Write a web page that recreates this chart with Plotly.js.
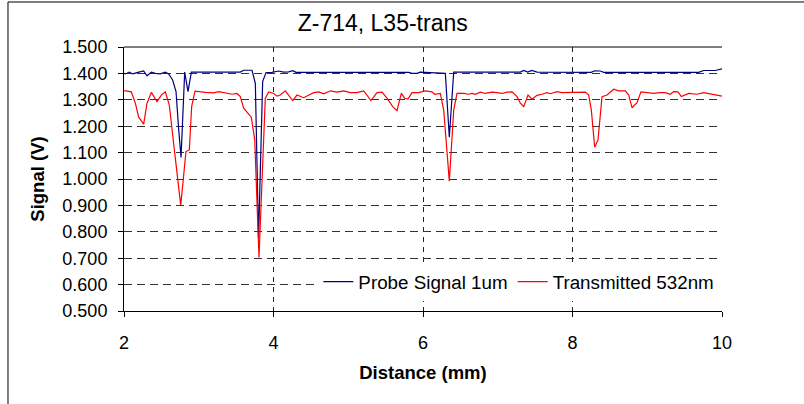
<!DOCTYPE html>
<html>
<head>
<meta charset="utf-8">
<script src="https://cdn.plot.ly/plotly-3.0.1.min.js"></script>
<style>html,body{margin:0;padding:0;background:#fff;}#chart{width:804px;height:404px;}</style>
</head>
<body>
<div id="chart"></div>
<script>
// Transmitted 532nm (red)
const distRed = [2.000,2.027,2.098,2.152,2.196,2.263,2.308,2.366,2.441,2.499,2.553,2.606,2.678,2.759,2.829,2.874,2.905,2.950,3.088,3.200,3.267,3.356,3.445,3.512,3.556,3.601,3.659,3.703,3.749,3.806,3.890,3.936,4.003,4.047,4.091,4.158,4.257,4.314,4.404,4.471,4.538,4.605,4.672,4.761,4.850,4.939,5.028,5.117,5.207,5.304,5.385,5.452,5.518,5.595,5.652,5.710,5.755,5.799,5.853,5.942,6.031,6.120,6.157,6.232,6.277,6.352,6.411,6.455,6.545,6.611,6.656,6.700,6.767,6.834,6.923,6.990,7.057,7.124,7.191,7.258,7.302,7.347,7.405,7.458,7.525,7.592,7.659,7.703,7.793,7.860,8.038,8.171,8.217,8.252,8.297,8.341,8.395,8.462,8.551,8.618,8.707,8.752,8.796,8.863,8.916,8.997,9.086,9.175,9.242,9.308,9.354,9.411,9.456,9.555,9.665,9.755,9.866,9.977,10.000];
const transmitted532 = [1.334,1.334,1.330,1.287,1.234,1.208,1.287,1.328,1.293,1.318,1.330,1.280,1.100,0.900,1.104,1.110,1.274,1.333,1.328,1.326,1.331,1.327,1.321,1.324,1.312,1.268,1.246,1.234,1.148,0.703,1.306,1.330,1.324,1.314,1.318,1.334,1.297,1.318,1.308,1.316,1.327,1.330,1.323,1.334,1.329,1.334,1.327,1.327,1.334,1.297,1.327,1.329,1.306,1.274,1.259,1.324,1.306,1.303,1.327,1.327,1.334,1.330,1.321,1.324,1.261,0.992,1.261,1.324,1.324,1.321,1.324,1.321,1.329,1.324,1.329,1.327,1.324,1.329,1.330,1.312,1.287,1.274,1.318,1.302,1.317,1.321,1.327,1.323,1.331,1.327,1.327,1.329,1.318,1.261,1.120,1.148,1.312,1.318,1.340,1.334,1.334,1.318,1.270,1.289,1.330,1.327,1.324,1.327,1.327,1.321,1.331,1.330,1.312,1.324,1.321,1.327,1.321,1.317,1.314];

// Probe Signal 1um (blue)
const distBlue = [2.000,2.018,2.071,2.116,2.174,2.263,2.308,2.366,2.419,2.486,2.553,2.597,2.651,2.696,2.731,2.763,2.812,2.856,2.901,3.556,3.601,3.712,3.757,3.800,3.855,3.900,3.980,4.069,4.136,4.203,4.257,4.301,5.809,5.853,5.920,5.964,6.299,6.352,6.411,7.302,7.347,7.400,7.458,7.525,8.250,8.297,8.372,8.418,9.688,9.755,9.910,9.977,10.000];
const probe1um = [1.400,1.398,1.405,1.398,1.403,1.409,1.391,1.405,1.400,1.398,1.405,1.398,1.375,1.331,1.190,1.082,1.405,1.331,1.405,1.405,1.412,1.412,1.362,0.775,1.369,1.403,1.404,1.409,1.405,1.406,1.410,1.404,1.404,1.400,1.400,1.405,1.400,1.158,1.405,1.405,1.411,1.405,1.411,1.405,1.404,1.410,1.409,1.404,1.404,1.411,1.411,1.417,1.417];

const xTicks = [2,4,6,8,10];
const yTicks = [0.5,0.6,0.7,0.8,0.9,1.0,1.1,1.2,1.3,1.4,1.5];

const FONT = 'Liberation Sans, Arial, sans-serif';

const traces = [
  {x: distBlue, y: probe1um, type:'scatter', mode:'lines', name:'Probe Signal 1um',
   line:{color:'#000080', width:1.2}},
  {x: distRed, y: transmitted532, type:'scatter', mode:'lines', name:'Transmitted 532nm',
   line:{color:'#ff0000', width:1.2}}
];

const layout = {
  width:804, height:404,
  margin:{l:124, r:82, t:47, b:93},
  paper_bgcolor:'#fff', plot_bgcolor:'#fff',
  font:{family:FONT, size:18, color:'#000'},
  title:{text:'Z-714, L35-trans', font:{family:FONT, size:23, color:'#000'},
         xref:'container', x:0.476, xanchor:'center', yref:'container', y:0.943, yanchor:'middle'},
  xaxis:{range:[2,10], tickvals:xTicks, ticktext:xTicks.map(String),
         showline:true, linecolor:'#000', linewidth:1,
         ticks:'outside', ticklen:5, tickcolor:'#000', ticklabelstandoff:10,
         showgrid:true, gridcolor:'#222', griddash:'5px,5px', gridwidth:1,
         zeroline:false, tickfont:{size:18},
         title:{text:'<b>Distance (mm)</b>', font:{size:18.5}, standoff:14}},
  yaxis:{range:[0.5,1.5], tickvals:yTicks, ticktext:yTicks.map(v=>v.toFixed(3)),
         showline:true, linecolor:'#000', linewidth:1,
         ticks:'outside', ticklen:5, tickcolor:'#000', ticklabelstandoff:7,
         showgrid:true, gridcolor:'#333', griddash:'8px,5px', gridwidth:1,
         zeroline:false, tickfont:{size:18},
         title:{text:'<b>Signal (V)</b>', font:{size:18.5}, standoff:12}},
  showlegend:true,
  legend:{orientation:'h', x:0.325, xanchor:'left', y:0.11, yanchor:'middle',
          bgcolor:'#fff', borderwidth:0, font:{size:18.8}, itemwidth:30},
  shapes:[
    {type:'line', xref:'paper', yref:'paper', x0:0, x1:1, y0:1, y1:1, line:{color:'#000', width:1}},
    {type:'line', xref:'paper', yref:'paper', x0:-0.194, x1:-0.194, y0:1.1705, y1:-0.5, line:{color:'#000', width:1}},
    {type:'line', xref:'paper', yref:'paper', x0:-0.194, x1:1.2, y0:1.1705, y1:1.1705, line:{color:'#000', width:1}}
  ]
};

Plotly.newPlot('chart', traces, layout, {displayModeBar:false, staticPlot:true});
</script>
</body>
</html>
